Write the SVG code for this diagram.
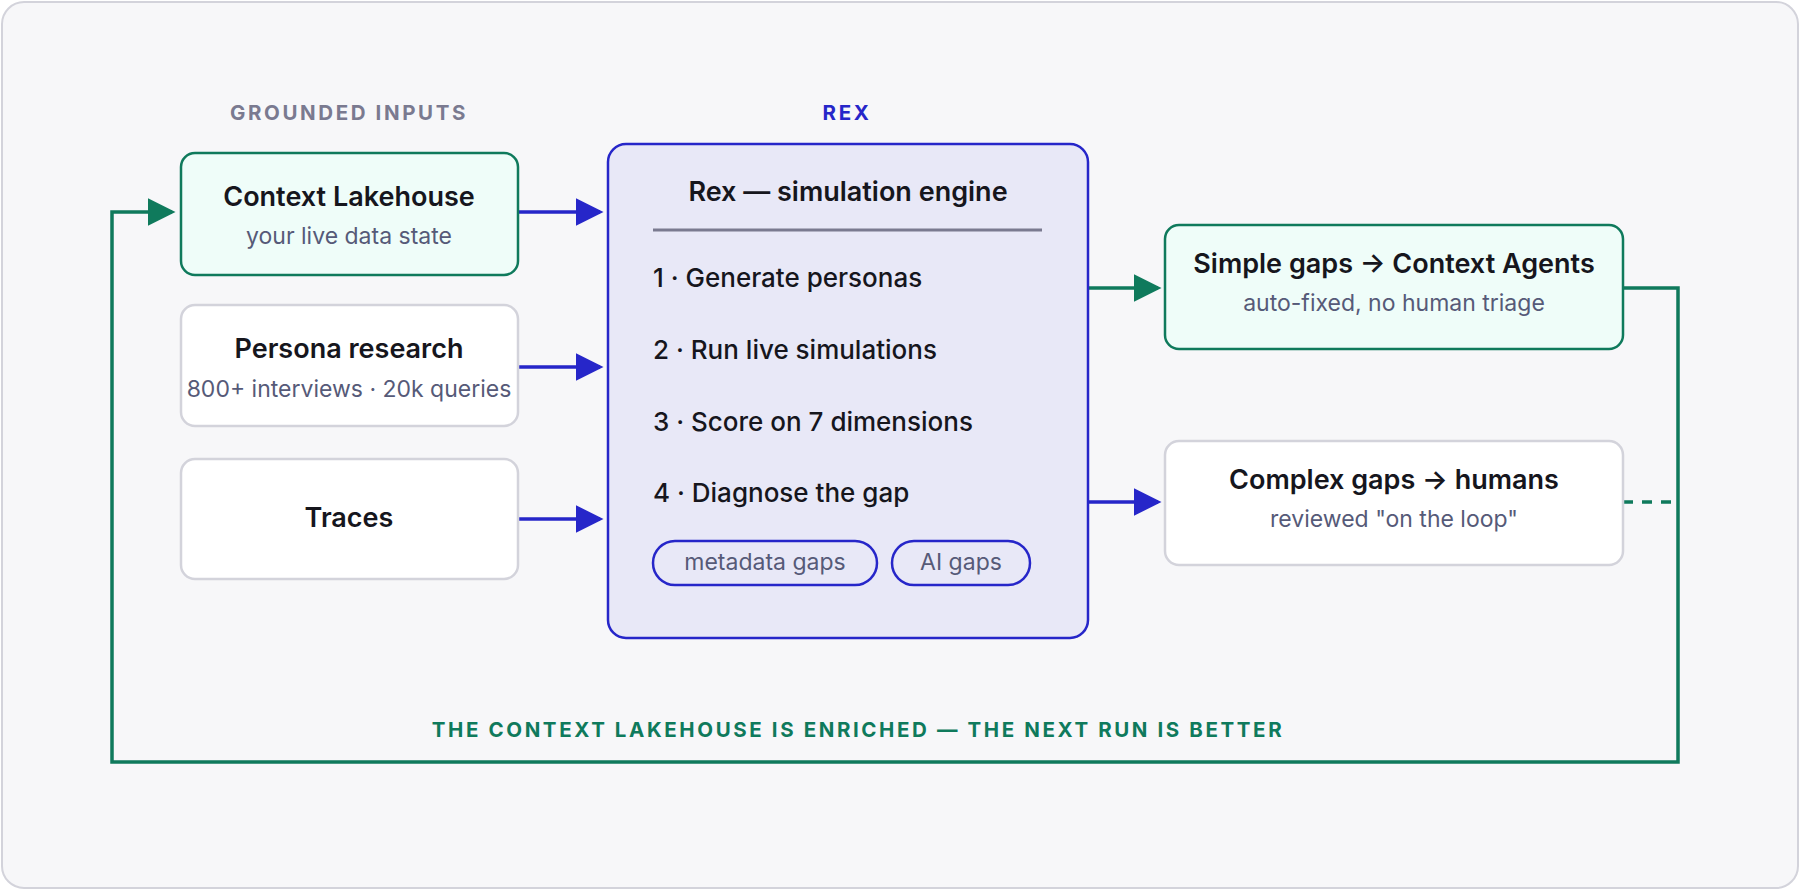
<svg xmlns="http://www.w3.org/2000/svg" width="1800" height="890" viewBox="0 0 1800 890">
<style>
text{font-family:Inter,"Liberation Sans",sans-serif}
.t{font-size:27px;font-weight:600;fill:#16161d;text-anchor:middle}
.s{font-size:23px;fill:#565a78;text-anchor:middle}
.i{font-size:26px;font-weight:500;fill:#16161d}
.lbl{font-size:20.5px;font-weight:700;letter-spacing:2.6px;text-anchor:middle}
.g{fill:#effdf9;stroke:#0f7a5c;stroke-width:2.5}
.w{fill:#fff;stroke:#d3d3db;stroke-width:2.5}
.b{stroke:#2626c9;stroke-width:3.5;fill:none}
.gr{stroke:#0f7a5c;stroke-width:3.5;fill:none}
</style>
<defs>
<marker id="ab" markerWidth="8" markerHeight="8" refX="7" refY="4" orient="auto" viewBox="0 0 8 8"><path d="M0,0L8,4L0,8z" fill="#2626c9"/></marker>
<marker id="ag" markerWidth="8" markerHeight="8" refX="7" refY="4" orient="auto" viewBox="0 0 8 8"><path d="M0,0L8,4L0,8z" fill="#0f7a5c"/></marker>
</defs>
<rect x="2" y="2" width="1796" height="886" rx="22" fill="#f7f7f9" stroke="#d3d3db" stroke-width="2"/>
<text class="lbl" x="349" y="120" fill="#7a7a90">GROUNDED INPUTS</text>
<text class="lbl" x="847" y="120" fill="#2626c9">REX</text>
<g id="connectors">
<path class="b" d="M519,212H600" marker-end="url(#ab)"/>
<path class="b" d="M519,367H600" marker-end="url(#ab)"/>
<path class="b" d="M519,519H600" marker-end="url(#ab)"/>
<path class="gr" d="M1088,288H1158" marker-end="url(#ag)"/>
<path class="b" d="M1088,502H1158" marker-end="url(#ab)"/>
<path class="gr" d="M1623,288H1678V762H112V212H172" marker-end="url(#ag)"/>
<path class="gr" d="M1623,502H1678" stroke-dasharray="10,9"/>
</g>
<g id="lakehouse"><rect class="g" x="181" y="153" width="337" height="122" rx="14"/>
<text class="t" x="349" y="206">Context Lakehouse</text><text class="s" x="349" y="244">your live data state</text></g>
<g id="persona"><rect class="w" x="181" y="305" width="337" height="121" rx="14"/>
<text class="t" x="349" y="358">Persona research</text><text class="s" x="349" y="397">800+ interviews · 20k queries</text></g>
<g id="traces"><rect class="w" x="181" y="459" width="337" height="120" rx="14"/>
<text class="t" x="349" y="527">Traces</text></g>
<g id="rex"><rect x="608" y="144" width="480" height="494" rx="18" fill="#e8e8f7" stroke="#2626c9" stroke-width="2.5"/>
<text class="t" x="848" y="201">Rex — simulation engine</text>
<line x1="653" y1="230" x2="1042" y2="230" stroke="#7a7a90" stroke-width="3"/>
<text class="i" x="653" y="287">1 · Generate personas</text>
<text class="i" x="653" y="359">2 · Run live simulations</text>
<text class="i" x="653" y="431">3 · Score on 7 dimensions</text>
<text class="i" x="653" y="502">4 · Diagnose the gap</text>
<rect x="653" y="541" width="224" height="44" rx="22" fill="#e8e8f7" stroke="#2626c9" stroke-width="2.5"/>
<text class="s" x="765" y="570">metadata gaps</text>
<rect x="892" y="541" width="138" height="44" rx="22" fill="#e8e8f7" stroke="#2626c9" stroke-width="2.5"/>
<text class="s" x="961" y="570">AI gaps</text></g>
<g id="simple"><rect class="g" x="1165" y="225" width="458" height="124" rx="14"/>
<text class="t" x="1394" y="273">Simple gaps → Context Agents</text><text class="s" x="1394" y="311">auto-fixed, no human triage</text></g>
<g id="complex"><rect class="w" x="1165" y="441" width="458" height="124" rx="14"/>
<text class="t" x="1394" y="489">Complex gaps → humans</text><text class="s" x="1394" y="527">reviewed "on the loop"</text></g>
<text class="lbl" x="858" y="737" fill="#0f7a5c">THE CONTEXT LAKEHOUSE IS ENRICHED — THE NEXT RUN IS BETTER</text>
</svg>
